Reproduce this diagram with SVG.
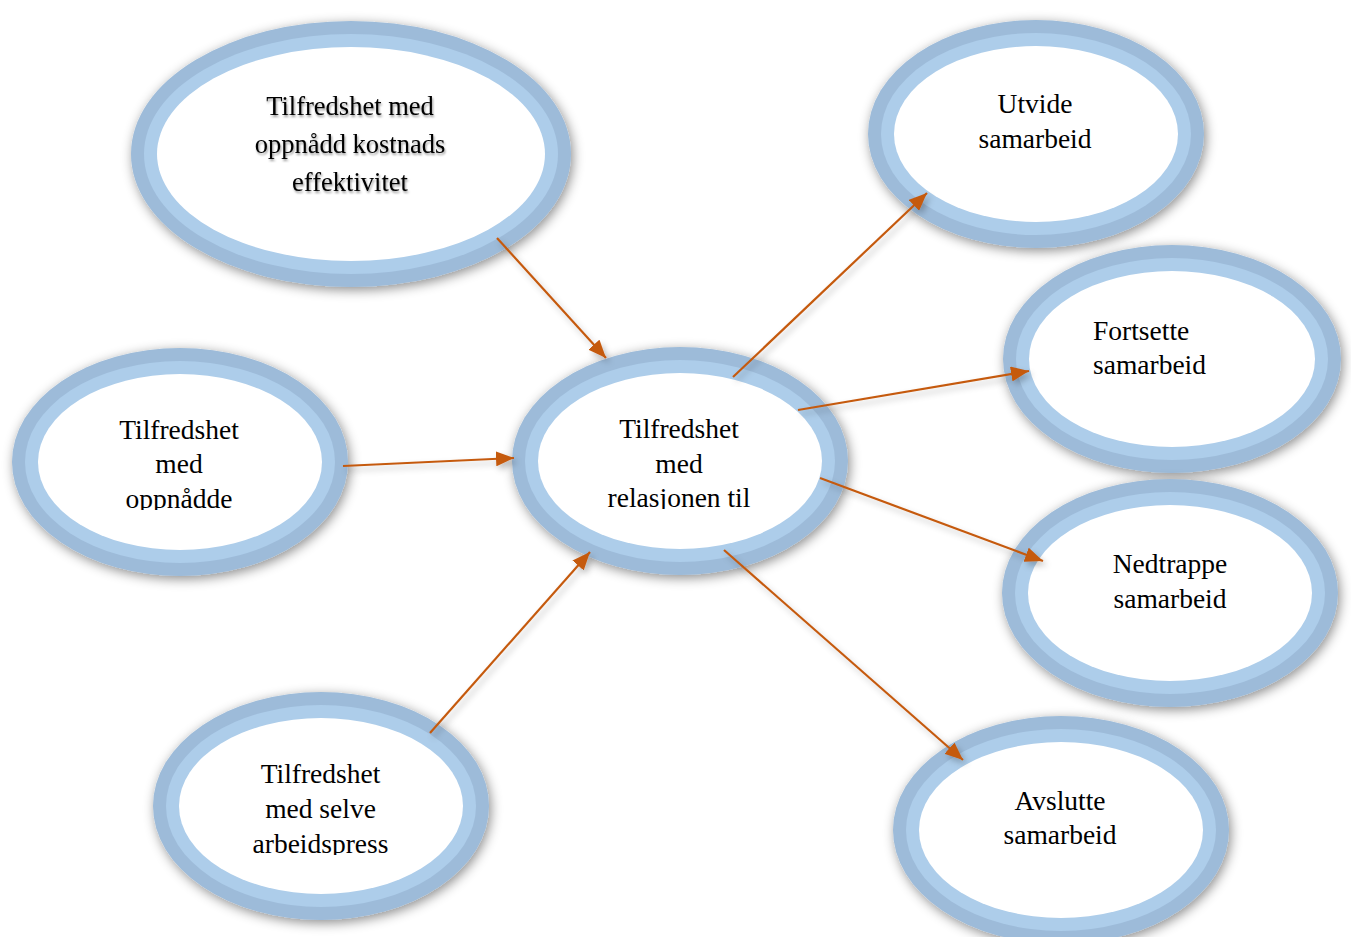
<svg xmlns="http://www.w3.org/2000/svg" width="1351" height="937" viewBox="0 0 1351 937">
  <defs>
    <style>
      .ring-out { fill: #9dbbd9; }
      .ring-in { fill: #adcdea; }
      .core { fill: #ffffff; }
      .lbl { font-family: "Liberation Serif", "Times New Roman", serif; font-size: 27.5px; fill: #000; text-anchor: middle; }
      .lbl-left { text-anchor: start; }
      .conn { stroke: #c55a11; stroke-width: 2.2; fill: none; marker-end: url(#arrow); }
    </style>
    <filter id="halo" x="-20%" y="-20%" width="140%" height="140%">
      <feGaussianBlur in="SourceAlpha" stdDeviation="6"/>
      <feOffset dx="2" dy="3" result="b"/>
      <feFlood flood-color="#000" flood-opacity="0.45"/>
      <feComposite in2="b" operator="in"/>
      <feMerge><feMergeNode/><feMergeNode in="SourceGraphic"/></feMerge>
    </filter>
    <filter id="lineShade" x="-20%" y="-20%" width="140%" height="140%">
      <feGaussianBlur in="SourceAlpha" stdDeviation="3"/>
      <feOffset dx="3" dy="4" result="b"/>
      <feFlood flood-color="#000" flood-opacity="0.25"/>
      <feComposite in2="b" operator="in"/>
      <feMerge><feMergeNode/><feMergeNode in="SourceGraphic"/></feMerge>
    </filter>
    <filter id="textShade" x="-10%" y="-10%" width="120%" height="130%">
      <feGaussianBlur in="SourceAlpha" stdDeviation="1.2"/>
      <feOffset dx="1" dy="1.5" result="b"/>
      <feFlood flood-color="#000" flood-opacity="0.4"/>
      <feComposite in2="b" operator="in"/>
      <feMerge><feMergeNode/><feMergeNode in="SourceGraphic"/></feMerge>
    </filter>
    <marker id="arrow" markerUnits="userSpaceOnUse" markerWidth="19" markerHeight="15" refX="18" refY="7.5" orient="auto">
      <path d="M0,0 L18,7.5 L0,15 Z" fill="#c55a11"/>
    </marker>
    <clipPath id="clipCenter"><rect x="500" y="340" width="360" height="169"/></clipPath>
    <clipPath id="clipLeft"><rect x="0" y="340" width="360" height="170"/></clipPath>
    <clipPath id="clipBottom"><rect x="140" y="680" width="360" height="175"/></clipPath>
  </defs>

  <rect width="1351" height="937" fill="#ffffff"/>

  <!-- Nodes -->
  <g id="node-kostnad">
    <g filter="url(#halo)">
      <ellipse class="ring-out" cx="351" cy="154" rx="220" ry="133"/>
    </g>
    <ellipse class="ring-in" cx="351" cy="154" rx="207" ry="120"/>
    <ellipse class="core" cx="351" cy="154" rx="194" ry="107"/>
    <g filter="url(#textShade)">
      <text class="lbl" x="350" y="115" style="font-size:26.5px">Tilfredshet med</text>
      <text class="lbl" x="350" y="153" style="font-size:26.5px">oppnådd kostnads</text>
      <text class="lbl" x="350" y="191" style="font-size:26.5px">effektivitet</text>
    </g>
  </g>

  <g id="node-relasjon">
    <g filter="url(#halo)">
      <ellipse class="ring-out" cx="680" cy="461" rx="168" ry="114"/>
    </g>
    <ellipse class="ring-in" cx="680" cy="461" rx="155" ry="101"/>
    <ellipse class="core" cx="680" cy="461" rx="142" ry="88"/>
    <g clip-path="url(#clipCenter)">
      <text class="lbl" x="679" y="438">Tilfredshet</text>
      <text class="lbl" x="679" y="473">med</text>
      <text class="lbl" x="679" y="507">relasjonen til</text>
    </g>
  </g>

  <g id="node-oppnadde">
    <g filter="url(#halo)">
      <ellipse class="ring-out" cx="180" cy="462" rx="168" ry="114"/>
    </g>
    <ellipse class="ring-in" cx="180" cy="462" rx="155" ry="101"/>
    <ellipse class="core" cx="180" cy="462" rx="142" ry="88"/>
    <g clip-path="url(#clipLeft)">
      <text class="lbl" x="179" y="439">Tilfredshet</text>
      <text class="lbl" x="179" y="473">med</text>
      <text class="lbl" x="179" y="508">oppnådde</text>
    </g>
  </g>

  <g id="node-arbeidspress">
    <g filter="url(#halo)">
      <ellipse class="ring-out" cx="321" cy="806" rx="168" ry="114"/>
    </g>
    <ellipse class="ring-in" cx="321" cy="806" rx="155" ry="101"/>
    <ellipse class="core" cx="321" cy="806" rx="142" ry="88"/>
    <g clip-path="url(#clipBottom)">
      <text class="lbl" x="320.5" y="783">Tilfredshet</text>
      <text class="lbl" x="320.5" y="818">med selve</text>
      <text class="lbl" x="320.5" y="853">arbeidspress</text>
    </g>
  </g>

  <g id="node-utvide">
    <g filter="url(#halo)">
      <ellipse class="ring-out" cx="1036" cy="134" rx="168" ry="114"/>
    </g>
    <ellipse class="ring-in" cx="1036" cy="134" rx="155" ry="101"/>
    <ellipse class="core" cx="1036" cy="134" rx="142" ry="88"/>
    <text class="lbl" x="1035" y="113">Utvide</text>
    <text class="lbl" x="1035" y="148">samarbeid</text>
  </g>

  <g id="node-fortsette">
    <g filter="url(#halo)">
      <ellipse class="ring-out" cx="1172" cy="359" rx="169" ry="114"/>
    </g>
    <ellipse class="ring-in" cx="1172" cy="359" rx="156" ry="101"/>
    <ellipse class="core" cx="1172" cy="359" rx="143" ry="88"/>
    <text class="lbl lbl-left" x="1093" y="340">Fortsette</text>
    <text class="lbl lbl-left" x="1093" y="374">samarbeid</text>
  </g>

  <g id="node-nedtrappe">
    <g filter="url(#halo)">
      <ellipse class="ring-out" cx="1170" cy="593" rx="168" ry="114"/>
    </g>
    <ellipse class="ring-in" cx="1170" cy="593" rx="155" ry="101"/>
    <ellipse class="core" cx="1170" cy="593" rx="142" ry="88"/>
    <text class="lbl" x="1170" y="573">Nedtrappe</text>
    <text class="lbl" x="1170" y="608">samarbeid</text>
  </g>

  <g id="node-avslutte">
    <g filter="url(#halo)">
      <ellipse class="ring-out" cx="1061" cy="830" rx="168" ry="114"/>
    </g>
    <ellipse class="ring-in" cx="1061" cy="830" rx="155" ry="101"/>
    <ellipse class="core" cx="1061" cy="830" rx="142" ry="88"/>
    <text class="lbl" x="1060" y="810">Avslutte</text>
    <text class="lbl" x="1060" y="844">samarbeid</text>
  </g>

  <!-- Connectors -->
  <g id="connectors" filter="url(#lineShade)">
    <line class="conn" x1="497" y1="238" x2="606" y2="358"/>
    <line class="conn" x1="343" y1="466" x2="514" y2="458"/>
    <line class="conn" x1="430" y1="733" x2="590" y2="552"/>
    <line class="conn" x1="733" y1="377" x2="927" y2="193"/>
    <line class="conn" x1="798" y1="410" x2="1029" y2="371"/>
    <line class="conn" x1="820" y1="478" x2="1043" y2="561"/>
    <line class="conn" x1="724" y1="550" x2="963" y2="760"/>
  </g>
</svg>
